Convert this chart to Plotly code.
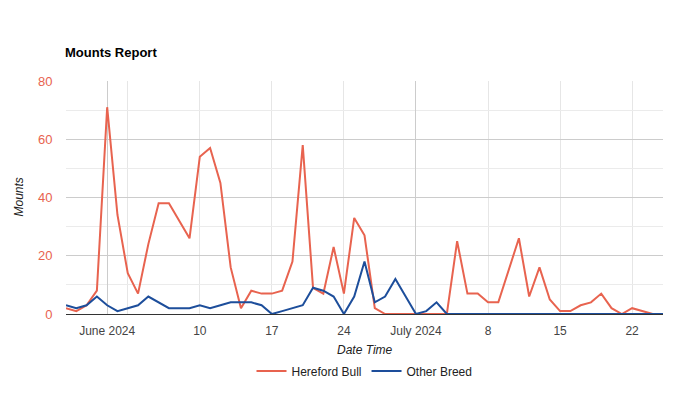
import pandas as pd
import plotly.graph_objects as go

dates = pd.date_range("2024-05-28", "2024-07-25", freq="D")

hereford_bull = [2, 1, 3, 8, 71, 34, 14, 7, 24, 38, 38, 32, 26, 54, 57, 45, 16, 2,
                 8, 7, 7, 8, 18, 58, 9, 7, 23, 7, 33, 27, 2, 0, 0, 0, 0, 0, 0, 0,
                 25, 7, 7, 4, 4, 15, 26, 6, 16, 5, 1, 1, 3, 4, 7, 2, 0, 2, 1, 0, 0]
other_breed = [3, 2, 3, 6, 3, 1, 2, 3, 6, 4, 2, 2, 2, 3, 2, 3, 4, 4,
               4, 3, 0, 1, 2, 3, 9, 8, 6, 0, 6, 18, 4, 6, 12, 6, 0, 1, 4, 0,
               0, 0, 0, 0, 0, 0, 0, 0, 0, 0, 0, 0, 0, 0, 0, 0, 0, 0, 0, 0, 0]

label_dates = ["2024-06-01", "2024-06-10", "2024-06-17", "2024-06-24",
               "2024-07-01", "2024-07-08", "2024-07-15", "2024-07-22"]
label_text = ["June 2024", "10", "17", "24", "July 2024", "8", "15", "22"]
week_lines = ["2024-06-03", "2024-06-10", "2024-06-17", "2024-06-24",
              "2024-07-08", "2024-07-15", "2024-07-22", "2024-07-25"]
month_lines = ["2024-06-01", "2024-07-01"]

RED = "#e8634f"
BLUE = "#1d4e9b"
FONT = "Liberation Sans, Arial, sans-serif"

# page body has an 8px default margin; figure is sized to compensate
W, H = 665, 387

fig = go.Figure()
fig.add_trace(go.Scatter(x=dates, y=hereford_bull, mode="lines", name="Hereford Bull",
                         line=dict(color=RED, width=2)))
fig.add_trace(go.Scatter(x=dates, y=other_breed, mode="lines", name="Other Breed",
                         line=dict(color=BLUE, width=2)))
fig.add_trace(go.Scatter(x=[dates[0]], y=[0], xaxis="x2", mode="markers",
                         marker=dict(opacity=0), showlegend=False, hoverinfo="skip"))

fig.update_layout(
    width=W, height=H,
    margin=dict(l=58, r=10, t=73, b=81),
    paper_bgcolor="white", plot_bgcolor="white",
    font=dict(family=FONT, size=12, color="#222222"),
    title=dict(text="<b>Mounts Report</b>", x=(65 - 8) / W, xref="container", xanchor="left",
               y=1 - (52 - 8) / H, yref="container", yanchor="middle",
               font=dict(size=13, color="#000000", family=FONT)),
    showlegend=True,
    legend=dict(orientation="h", x=0.5, xanchor="center", y=-0.245, yanchor="middle",
                font=dict(size=12, color="#222222"), itemwidth=30),
    xaxis=dict(
        range=[dates[0], dates[-1]],
        tickmode="array", tickvals=label_dates, ticktext=label_text,
        showgrid=False, zeroline=False, showline=False,
        ticks="outside", ticklen=6, tickcolor="rgba(0,0,0,0)",
        tickfont=dict(size=12, color="#444444"),
        minor=dict(tickmode="array", tickvals=week_lines, showgrid=True,
                   gridcolor="#e6e6e6", gridwidth=1),
    ),
    xaxis2=dict(
        overlaying="x", range=[dates[0], dates[-1]], tickmode="array",
        tickvals=month_lines, showticklabels=False, showgrid=True,
        gridcolor="#cccccc", gridwidth=1, zeroline=False, layer="below traces",
    ),
    yaxis=dict(
        range=[0, 80], dtick=20, tick0=0,
        gridcolor="#cccccc", gridwidth=1,
        zeroline=True, zerolinecolor="#333333", zerolinewidth=1,
        ticks="outside", ticklen=10, tickcolor="rgba(0,0,0,0)",
        tickfont=dict(size=13, color=RED),
        minor=dict(dtick=10, showgrid=True, gridcolor="#ebebeb"),
    ),
    annotations=[
        dict(text="<i>Date Time</i>", xref="paper", yref="paper", x=0.5,
             y=(314 - 350) / 233, xanchor="center", yanchor="middle", showarrow=False,
             font=dict(size=12, color="#222222")),
        dict(text="<i>Mounts</i>", xref="paper", yref="paper", x=(18 - 66) / 597,
             y=0.5, xanchor="center", yanchor="middle", textangle=-90, showarrow=False,
             font=dict(size=12, color="#222222")),
    ],
)

fig.write_html("out.html")
